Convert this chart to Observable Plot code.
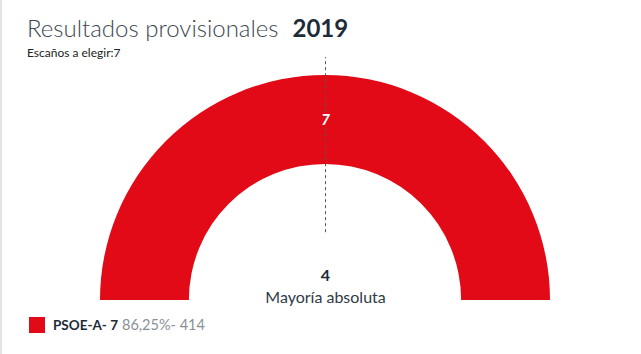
<!DOCTYPE html>
<html><head><meta charset="utf-8">
<script src="https://cdn.jsdelivr.net/npm/d3@7"></script>
<script src="https://cdn.jsdelivr.net/npm/@observablehq/plot@0.6"></script>
<style>
html,body{margin:0;padding:0;background:#fff;}
body{width:641px;height:354px;overflow:hidden;font-family:Lato,"Open Sans",sans-serif;border-left:2px solid #dfe4e9;box-sizing:border-box;position:relative;}
#title{position:absolute;left:25px;top:13px;font-size:24px;font-weight:300;color:#3d4650;white-space:nowrap;}
#title b{font-weight:700;color:#1e2b38;margin-left:14px;}
#sub{position:absolute;left:25px;top:45px;font-size:12px;color:#222;}
#chart{position:absolute;left:-2px;top:58px;}
#legend{position:absolute;left:27px;top:316px;display:flex;align-items:center;font-size:13px;}
#legend .sw{width:16px;height:16px;margin-right:8px;}
#legend b{color:#1e2b38;font-weight:700;font-size:13.5px;}
#legend span.g{color:#8a8f94;margin-left:4px;font-size:14.5px;}
</style></head>
<body>
<div id="title">Resultados provisionales<b id="year"></b></div>
<div id="sub"></div>
<div id="chart"></div>
<div id="legend"></div>
<script>
const year = 2019;
const parties = ["PSOE-A"];
const seats = [7];
const percents = ["86,25%"];
const votes = [414];
const colors = ["#e20a16"];
const totalSeats = 7;
const majority = 4;

document.getElementById("year").textContent = year;
document.getElementById("sub").textContent = "Escaños a elegir:" + totalSeats;

const innerR = 0.605;
let acc = 0;
const slices = parties.map((p, i) => {
  const a0 = -Math.PI / 2 + Math.PI * acc / totalSeats;
  acc += seats[i];
  const a1 = -Math.PI / 2 + Math.PI * acc / totalSeats;
  return {party: p, seats: seats[i], color: colors[i], a0, a1, mid: (a0 + a1) / 2};
});
slices.forEach(s => { s.lx = 0.8 * Math.sin(s.mid); s.ly = 0.8 * Math.cos(s.mid); });

const arcMark = (index, scales, values, dims) => {
  const cx = scales.x(0), cy = scales.y(0);
  const R = scales.x(1) - scales.x(0);
  const g = d3.create("svg:g");
  const arc = d3.arc().innerRadius(R * innerR).outerRadius(R);
  g.selectAll("path").data(slices).join("path")
    .attr("transform", `translate(${cx},${cy})`)
    .attr("d", s => arc({startAngle: s.a0, endAngle: s.a1}))
    .attr("fill", s => s.color);
  return g.node();
};

const chart = Plot.plot({
  width: 641, height: 252,
  marginLeft: 0, marginRight: 0, marginTop: 0, marginBottom: 0,
  x: {domain: [-1, 1], range: [100, 550], axis: null},
  y: {domain: [0, 1], range: [242, 16], axis: null},
  marks: [
    arcMark,
    Plot.ruleX([0], {y1: 0.3, y2: 1.075, stroke: "#555", strokeDasharray: "3,3", strokeWidth: 1}),
    Plot.text(slices, {x: "lx", y: "ly", text: d => String(d.seats), fill: "#fff", fontSize: 15, fontWeight: "bold", fontStyle: "italic"}),
    Plot.text([majority], {x: 0, y: 0, text: d => String(d), dy: -25, fontSize: 16, fontWeight: "bold", fill: "#1e2b38"}),
    Plot.text(["Mayoría absoluta"], {x: 0, y: 0, text: d => d, dy: -3, fontSize: 16, fill: "#2f3b47"})
  ],
  style: {fontFamily: "Lato, sans-serif", background: "transparent", overflow: "visible"}
});
document.getElementById("chart").appendChild(chart);

const leg = document.getElementById("legend");
parties.forEach((p, i) => {
  const item = document.createElement("div");
  item.style.display = "flex"; item.style.alignItems = "center";
  item.innerHTML = `<div class="sw" style="background:${colors[i]}"></div><b>${p}- ${seats[i]}</b><span class="g">${percents[i]}- ${votes[i]}</span>`;
  leg.appendChild(item);
});
</script>
</body></html>
